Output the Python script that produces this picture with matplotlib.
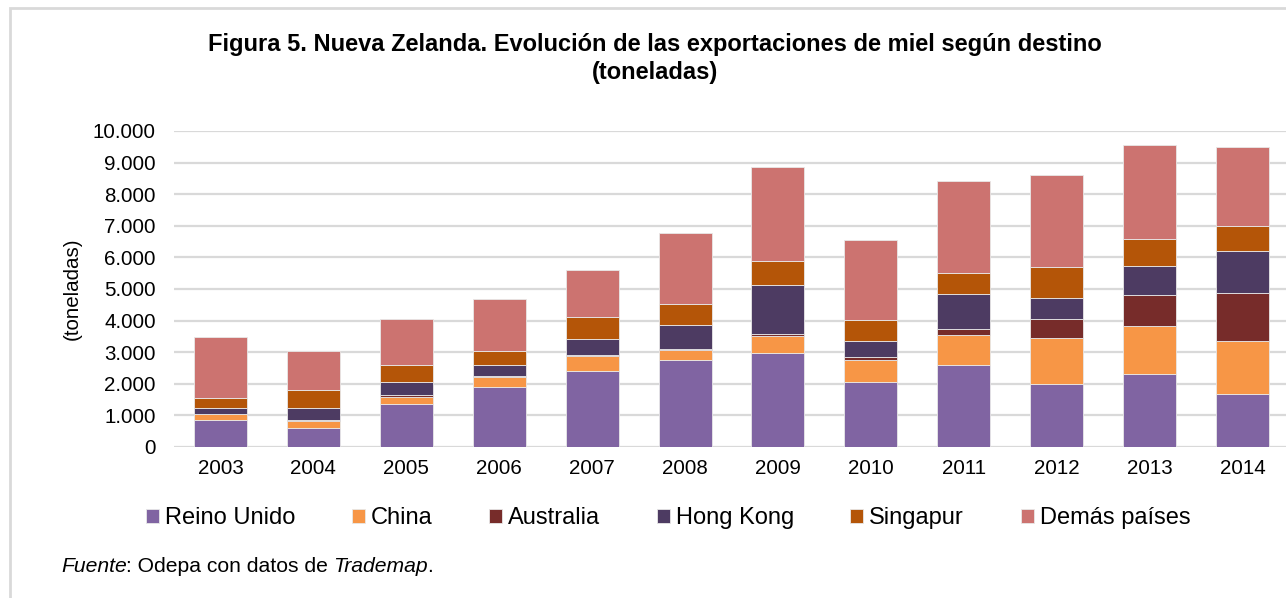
import matplotlib.pyplot as plt
import numpy as np
from matplotlib.patches import Rectangle

plt.rcParams['font.family'] = ['Liberation Sans', 'DejaVu Sans']

# datos (toneladas)
anios = ['2003', '2004', '2005', '2006', '2007', '2008',
         '2009', '2010', '2011', '2012', '2013', '2014']
reino_unido = [843, 611, 1350, 1900, 2390, 2750, 2960, 2055, 2580, 2000, 2310, 1665]
china = [190, 220, 240, 300, 475, 325, 540, 695, 950, 1435, 1505, 1695]
australia = [10, 10, 50, 50, 45, 15, 70, 95, 220, 600, 990, 1505]
hong_kong = [180, 390, 420, 330, 505, 755, 1550, 495, 1105, 675, 925, 1350]
singapur = [320, 560, 540, 470, 685, 675, 770, 665, 665, 980, 865, 790]
demas = [1924, 1254, 1440, 1630, 1495, 2255, 2970, 2540, 2885, 2920, 2960, 2490]

series = [
    ('Reino Unido', reino_unido, '#8064A2'),
    ('China', china, '#F79646'),
    ('Australia', australia, '#772C2A'),
    ('Hong Kong', hong_kong, '#4D3B62'),
    ('Singapur', singapur, '#B45508'),
    ('Demás países', demas, '#CC7370'),
]

fig = plt.figure(figsize=(12.86, 5.98), dpi=100)
ax = fig.add_axes([174 / 1286, 151 / 598, 1115 / 1286, 316 / 598])

x = np.arange(len(anios))
base = np.zeros(len(anios))
for nombre, vals, color in series:
    ax.bar(x, vals, width=0.57, bottom=base, color=color, label=nombre,
           edgecolor='#E8E8E8', linewidth=0.6, zorder=3)
    base = base + np.array(vals)

ax.set_xlim(-0.5, len(anios) - 0.5)
ax.set_ylim(0, 10000)
ax.set_yticks(np.arange(0, 10001, 1000))
ax.set_yticklabels(['0'] + [f'{v:,}'.replace(',', '.') for v in range(1000, 10001, 1000)])
ax.set_xticks(x)
ax.set_xticklabels(anios)
ax.tick_params(axis='both', length=0, labelsize=14.8)
ax.tick_params(axis='y', pad=13)
ax.tick_params(axis='x', pad=9)
ax.grid(axis='y', color='#D9D9D9', linewidth=1.6, zorder=0)
ax.set_axisbelow(True)
for s in ax.spines.values():
    s.set_visible(False)
ax.set_ylabel('(toneladas)', fontsize=14.8, labelpad=8)

fig.text(655 / 1286, 1 - 45 / 598, 'Figura 5. Nueva Zelanda. Evolución de las exportaciones de miel según destino',
         ha='center', va='center', fontsize=17, weight='bold')
fig.text(655 / 1286, 1 - 73 / 598, '(toneladas)', ha='center', va='center', fontsize=17, weight='bold')

leg = fig.legend(loc='center', bbox_to_anchor=(668 / 1286, 1 - 518 / 598), ncol=6, frameon=False,
                 fontsize=17, handlelength=0.55, handleheight=0.55, handletextpad=0.25,
                 columnspacing=2.4)

# fuente, con partes en cursiva
renderer = fig.canvas.get_renderer()
xpos = 61
ybase = 1 - 572 / 598
for txt, estilo in [('Fuente', 'italic'), (': Odepa con datos de ', 'normal'),
                    ('Trademap', 'italic'), ('.', 'normal')]:
    t = fig.text(xpos / 1286, ybase, txt, fontsize=15.2, style=estilo, va='baseline', ha='left')
    xpos = t.get_window_extent(renderer).x1 - (1 if estilo == 'italic' else 0)

# marco gris del gráfico
fig.patches.append(Rectangle((10 / 1286, -0.1), 1.2, 1 - 8 / 598 + 0.1, transform=fig.transFigure,
                             fill=False, edgecolor='#D9D9D9', linewidth=2))

fig.savefig('out.png', dpi=100)
